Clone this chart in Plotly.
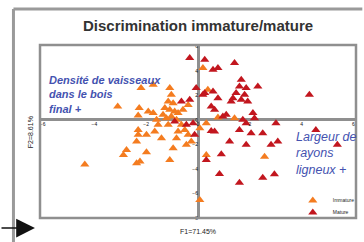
import plotly.graph_objects as go

# Immature (orange) points: F1, F2
imm_x = [-2.20, -1.73, -3.10, -2.27, -2.31, -1.92, -1.73, -1.09, -1.03, -1.15, -0.96, -1.28, -1.09,
         -0.90, -1.35, -1.03, -0.77, -0.58, -0.38, -1.60, -1.54, -1.67, -2.31, -2.31, -1.99, -2.37,
         -2.76, -2.88, -1.99, -2.24, -2.37, -4.37, -1.41, -1.09, -0.96, -0.83, -0.77, -0.64, -0.51,
         -0.38, -0.26, -0.45, -0.83, -1.15, -1.22, 0.19, 0.38, 1.41, 0.77, 0.32, 0.07, 0.32, 2.57, 0.07]
imm_y = [2.59, 2.86, 1.09, 0.96, 0.35, 0.68, 0.55, 2.59, 2.04, 1.49, 1.36, 0.96, 0.82,
         0.68, 0.41, 0.27, 0.55, 0.82, 1.22, 0.00, -0.41, -0.96, -0.82, -1.22, -1.22, -1.77,
         -2.45, -2.86, -2.64, -3.40, -3.53, -3.63, -1.49, -3.27, -2.31, -1.49, -0.96, -0.41, -0.82,
         -1.22, -1.77, -2.04, 0.00, -0.41, 0.14, 4.22, 2.45, 0.14, 0.19, -0.27, -0.68, -2.86, -3.00, -6.53]

# Mature (red) points: F1, F2
mat_x = [-0.32, 0.26, 0.58, 0.77, 1.41, 1.67, 1.60, 1.86, 1.47, 1.80, 1.35, 1.67, 1.92, 1.28,
         2.31, 4.30, -0.07, 0.19, 0.58, 0.77, 0.51, 0.96, 1.09, 1.73, 2.12, 2.18, 1.86, 0.51,
         0.64, 1.60, 2.05, 2.50, 3.01, 1.22, 1.86, 2.82, 3.08, 0.90, 0.32, 4.55, 5.38, 0.83,
         1.60, 2.50, 2.95, -0.32, -0.64, -0.90, -0.45, -0.19, -0.13, 0.64, 0.26]
mat_y = [5.04, 4.90, 4.08, 4.22, 4.63, 3.27, 2.72, 2.59, 2.18, 2.04, 1.77, 1.63, 1.49, 1.49,
         2.72, 2.04, 2.59, 2.04, 2.31, 1.77, 1.09, 0.27, 0.41, 0.00, 0.55, 0.14, -0.27, -0.90,
         -0.96, -0.82, -1.09, -1.09, -0.27, -1.77, -2.04, -2.04, -1.77, -2.80, -3.27, -0.82, -2.04, -4.41,
         -5.12, -4.71, -4.43, 1.63, 1.49, -0.14, -0.41, -0.27, -1.22, 0.82, 2.18]

x_ticks = [-6, -4, -2, 0, 2, 4, 6]
y_ticks = [-8, -6, -4, -2, 0, 2, 4, 6]

title_text = "Discrimination immature/mature"
x_title = "F1=71.45%"
y_title = "F2=8.61%"
series_names = ["Immature", "Mature"]
left_note = "Densité de vaisseaux<br>dans le bois<br>final +"
right_note = "Largeur de<br>rayons<br>ligneux +"

ORANGE = "#f47c20"
RED = "#c2161e"
GRAY = "#8f8f8f"
BLUE = "#4452b0"

fig = go.Figure()
fig.add_trace(go.Scatter(x=imm_x, y=imm_y, mode="markers", name=series_names[0],
                         legend="legend",
                         marker=dict(symbol="triangle-up", size=8, color=ORANGE)))
fig.add_trace(go.Scatter(x=mat_x, y=mat_y, mode="markers", name=series_names[1],
                         legend="legend2",
                         marker=dict(symbol="triangle-up", size=8, color=RED)))

leg_common = dict(xanchor="left", yanchor="top", font=dict(size=5, color="#222"),
                  bgcolor="rgba(0,0,0,0)", itemwidth=30)
fig.update_layout(
    width=364, height=242,
    margin=dict(l=40, r=4, t=45, b=24),
    paper_bgcolor="white", plot_bgcolor="white",
    font=dict(family="Liberation Sans, Arial, sans-serif", color="#222"),
    showlegend=True,
    legend=dict(x=0.80, y=0.185, **leg_common),
    legend2=dict(x=0.80, y=0.116, **leg_common),
)
fig.update_xaxes(range=[-6.1, 6.1], tickvals=x_ticks, showgrid=False,
                 zeroline=True, zerolinecolor=GRAY, zerolinewidth=2.5,
                 anchor="free", position=8 / 14.1, showline=False,
                 tickfont=dict(size=5, color="#111"), ticks="", automargin=False)
fig.update_yaxes(range=[-8, 6.1], tickvals=y_ticks, showgrid=False,
                 zeroline=True, zerolinecolor=GRAY, zerolinewidth=2.5,
                 anchor="free", position=0.5, showline=False,
                 tickfont=dict(size=5, color="#111"), ticks="", automargin=False)

# plot frame
fig.add_shape(type="rect", xref="paper", yref="paper", x0=0, x1=1, y0=0, y1=1,
              line=dict(color=GRAY, width=2.5))
# outer slide frame
fig.add_shape(type="line", xref="paper", yref="paper", x0=-0.084, x1=-0.084, y0=-0.2, y1=1.208,
              line=dict(color="#9a9a9a", width=3))
fig.add_shape(type="line", xref="paper", yref="paper", x0=-0.084, x1=1.02, y0=1.208, y1=1.208,
              line=dict(color="#9a9a9a", width=3))

fig.add_annotation(text="<b>" + title_text + "</b>", xref="paper", yref="paper",
                   x=0.5, y=1.1156, xanchor="center", yanchor="middle",
                   showarrow=False, font=dict(size=15, color="#333"))
fig.add_annotation(text=x_title, xref="paper", yref="paper", x=0.5, y=-0.079,
                   xanchor="center", yanchor="middle",
                   showarrow=False, font=dict(size=7, color="#222"))
fig.add_annotation(text=y_title, xref="paper", yref="paper", x=-0.031, y=0.497,
                   xanchor="center", yanchor="middle",
                   textangle=-90, showarrow=False, font=dict(size=7, color="#222"))
fig.add_annotation(text="<b><i>" + left_note + "</i></b>", xref="paper", yref="paper",
                   x=0.022, y=0.844, xanchor="left", yanchor="top", align="left",
                   showarrow=False, font=dict(size=11, color=BLUE))
fig.add_annotation(text="<i>" + right_note + "</i>", xref="paper", yref="paper",
                   x=0.803, y=0.52, xanchor="left", yanchor="top", align="left",
                   showarrow=False, font=dict(size=12.5, color=BLUE))
# arrow at bottom left
fig.add_annotation(text="", xref="paper", yref="paper", x=-0.016, y=-0.058,
                   ax=-36, ay=0, showarrow=True, arrowhead=2, arrowsize=2.5,
                   arrowwidth=1.5, arrowcolor="#111")

fig.write_html("out.html", config={"displayModeBar": False},
               post_script="document.body.style.margin='0';")
